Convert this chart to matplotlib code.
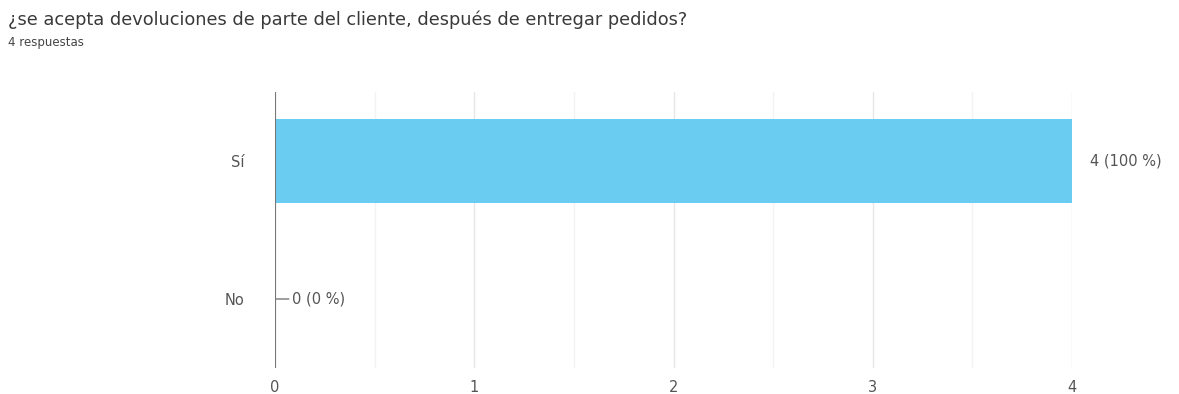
import numpy as np
import matplotlib.pyplot as plt

plt.rcParams['font.family'] = ['DejaVu Sans']

categories = ['Sí', 'No']
counts = [4, 0]
total = 4
xticks = [0, 1, 2, 3, 4]

bar_color = '#6accf0'
text_color = '#555555'

fig = plt.figure(figsize=(11.79, 3.94), dpi=100)
ax = fig.add_axes([0.2332, 0.066, 0.6761, 0.7005])

y = np.arange(len(categories))
ax.barh(y, counts, height=0.61, color=bar_color, zorder=2)
ax.set_ylim(len(categories) - 0.5, -0.5)
ax.set_xlim(0, 4)

# faint grid, with half steps in between
ax.set_xticks(xticks)
ax.set_xticks(np.arange(0.5, 4, 1), minor=True)
ax.grid(axis='x', which='major', color='#e6e6e6', lw=1, zorder=0)
ax.grid(axis='x', which='minor', color='#f3f3f3', lw=1, zorder=0)
ax.axvline(0, color='#777777', lw=1.5, zorder=3)

ax.set_yticks(y)
ax.set_yticklabels(categories)
ax.tick_params(axis='both', which='both', length=0, labelsize=10.5, labelcolor=text_color)
ax.tick_params(axis='y', pad=22)
ax.tick_params(axis='x', pad=9)
for s in ax.spines.values():
    s.set_visible(False)

for yi, c in zip(y, counts):
    label = f'{c} ({c / total * 100:.0f} %)'
    if c > 0:
        ax.annotate(label, (c, yi), xytext=(13, 0), textcoords='offset points',
                    va='center', ha='left', fontsize=10.5, color=text_color,
                    annotation_clip=False)
    else:
        ax.annotate(label, (c, yi), xytext=(12, 0), textcoords='offset points',
                    va='center', ha='left', fontsize=10.5, color=text_color,
                    arrowprops=dict(arrowstyle='-', color='#777777', lw=1,
                                    shrinkA=0, shrinkB=1))

fig.text(0.007, 0.949, '¿se acepta devoluciones de parte del cliente, después de entregar pedidos?',
         fontsize=12.8, color='#3a3a3a', ha='left', va='center')
fig.text(0.007, 0.893, '4 respuestas', fontsize=8.5, color='#444444', ha='left', va='center')

fig.savefig('out.png', dpi=100, facecolor='white')
